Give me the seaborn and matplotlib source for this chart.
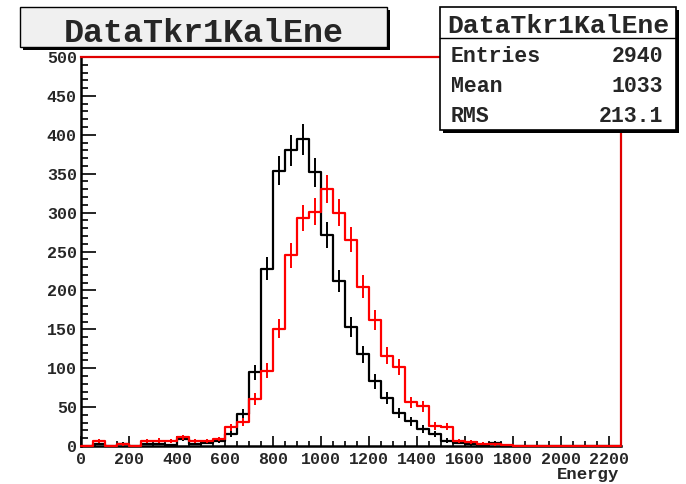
import numpy as np
import pandas as pd
import seaborn as sns
import matplotlib
matplotlib.use("Agg")
import matplotlib.pyplot as plt
from matplotlib.patches import Rectangle
from matplotlib.lines import Line2D

# Energy histogram: 45 bins of width 50 from 0 to 2250
bin_edges = list(range(0, 2251, 50))

black_counts = [0, 3, 0, 3, 0, 3, 3, 1, 9, 3,
                4, 7, 16, 41, 95, 228, 354, 380, 394, 352,
                271, 212, 153, 118, 83, 62, 42, 32, 22, 15,
                7, 4, 2, 1, 4, 0, 0, 0, 0, 0,
                0, 0, 0, 0, 0]

red_counts = [0, 6, 0, 2, 0, 6, 7, 6, 11, 6,
              6, 9, 24, 31, 60, 97, 151, 245, 293, 301,
              330, 300, 265, 205, 162, 116, 102, 56, 51, 26,
              25, 6, 5, 3, 2, 1, 0, 0, 0, 0,
              0, 0, 0, 0, 0]

hist_title = "DataTkr1KalEne"
stat_names = ["Entries", "Mean", "RMS"]
stat_values = ["2940", "1033", "213.1"]
x_label = "Energy"
x_ticks = list(range(0, 2201, 200))
y_ticks = list(range(0, 501, 50))

sns.set_style("ticks")
plt.rcParams["font.family"] = ["Liberation Mono", "DejaVu Sans Mono"]
plt.rcParams["font.weight"] = "bold"

W, H = 686, 484
fig = plt.figure(figsize=(W / 100, H / 100), dpi=100)
fig.patch.set_facecolor("white")


def fx(px):
    return px / W


def fy(py):
    return 1 - py / H


ax = fig.add_axes([fx(81), fy(446), fx(621) - fx(81), fy(57) - fy(446)])
ax.set_facecolor("white")

edges = np.array(bin_edges, dtype=float)
centers = (edges[:-1] + edges[1:]) / 2

for counts, col, z in [(black_counts, "black", 2.6), (red_counts, "#ff0000", 2.7)]:
    sub = pd.DataFrame({"energy": centers, "count": np.asarray(counts, dtype=float)})
    n_before = len(ax.lines)
    sns.histplot(data=sub, x="energy", weights="count", binwidth=50,
                 binrange=(0, 2250), element="step", fill=False, color=col,
                 linewidth=1.6, ax=ax, zorder=z)
    for ln in ax.lines[n_before:]:
        ln.set_clip_on(False)
    nz = sub[sub["count"] > 0]
    ax.errorbar(nz["energy"], nz["count"], yerr=np.sqrt(nz["count"]),
                fmt="none", ecolor=col, elinewidth=1.4, capsize=0, zorder=z)

ax.set_xlim(0, 2250)
ax.set_ylim(0, 500)
ax.set_xlabel("")
ax.set_ylabel("")

ax.set_xticks(x_ticks)
ax.set_xticks(np.arange(0, 2251, 50), minor=True)
ax.set_yticks(y_ticks)
ax.set_yticks(np.arange(0, 501, 10), minor=True)
ax.set_xticklabels([str(v) for v in x_ticks])
ax.set_yticklabels([str(v) for v in y_ticks])

ax.tick_params(axis="both", which="both", bottom=True, left=True,
               top=False, right=False)
ax.tick_params(axis="x", which="major", direction="in", length=7.5, width=1.2,
               labelsize=12, pad=4, color="black")
ax.tick_params(axis="x", which="minor", direction="in", length=3.5, width=1.2,
               color="black")
ax.tick_params(axis="y", which="major", direction="in", length=11, width=1.2,
               labelsize=12, pad=3, color="black")
ax.tick_params(axis="y", which="minor", direction="in", length=5, width=1.2,
               color="black")
for lab in ax.get_xticklabels() + ax.get_yticklabels():
    lab.set_fontweight("bold")

for side in ["left", "bottom"]:
    ax.spines[side].set_color("black")
    ax.spines[side].set_linewidth(1.8)
for side in ["top", "right"]:
    ax.spines[side].set_visible(True)
    ax.spines[side].set_color("#e00000")
    ax.spines[side].set_linewidth(1.6)

fig.text(fx(619), fy(474), x_label, ha="right", va="center",
         fontsize=12.5, fontweight="bold")

# Title box with drop shadow
tx0, ty0, tx1, ty1 = 20, 7, 387, 47
fig.patches.append(Rectangle((fx(tx0 + 3), fy(ty1 + 3)), fx(tx1 - tx0), fy(ty0) - fy(ty1),
                             transform=fig.transFigure, facecolor="black",
                             edgecolor="none", zorder=5))
fig.patches.append(Rectangle((fx(tx0), fy(ty1)), fx(tx1 - tx0), fy(ty0) - fy(ty1),
                             transform=fig.transFigure, facecolor="#f0f0f0",
                             edgecolor="black", linewidth=1.0, zorder=6))
fig.text(fx((tx0 + tx1) / 2), fy(34), hist_title, ha="center", va="center",
         fontsize=24, fontweight="bold", zorder=7)

# Statistics box with drop shadow
sx0, sy0, sx1, sy1 = 440, 7, 676, 130
fig.patches.append(Rectangle((fx(sx0 + 3), fy(sy1 + 3)), fx(sx1 - sx0), fy(sy0) - fy(sy1),
                             transform=fig.transFigure, facecolor="black",
                             edgecolor="none", zorder=5))
fig.patches.append(Rectangle((fx(sx0), fy(sy1)), fx(sx1 - sx0), fy(sy0) - fy(sy1),
                             transform=fig.transFigure, facecolor="white",
                             edgecolor="black", linewidth=1.2, zorder=6))
fig.lines.append(Line2D([fx(sx0), fx(sx1)], [fy(38), fy(38)],
                        transform=fig.transFigure, color="black",
                        linewidth=1.0, zorder=7))
fig.text(fx((sx0 + sx1) / 2), fy(26), hist_title, ha="center", va="center",
         fontsize=19, fontweight="bold", zorder=7)
for i, (nm, val) in enumerate(zip(stat_names, stat_values)):
    yy = 57 + 30 * i
    fig.text(fx(451), fy(yy), nm, ha="left", va="center",
             fontsize=15.5, fontweight="bold", zorder=7)
    fig.text(fx(663), fy(yy), val, ha="right", va="center",
             fontsize=15.5, fontweight="bold", zorder=7)

fig.savefig("out.png", dpi=100, facecolor="white")
